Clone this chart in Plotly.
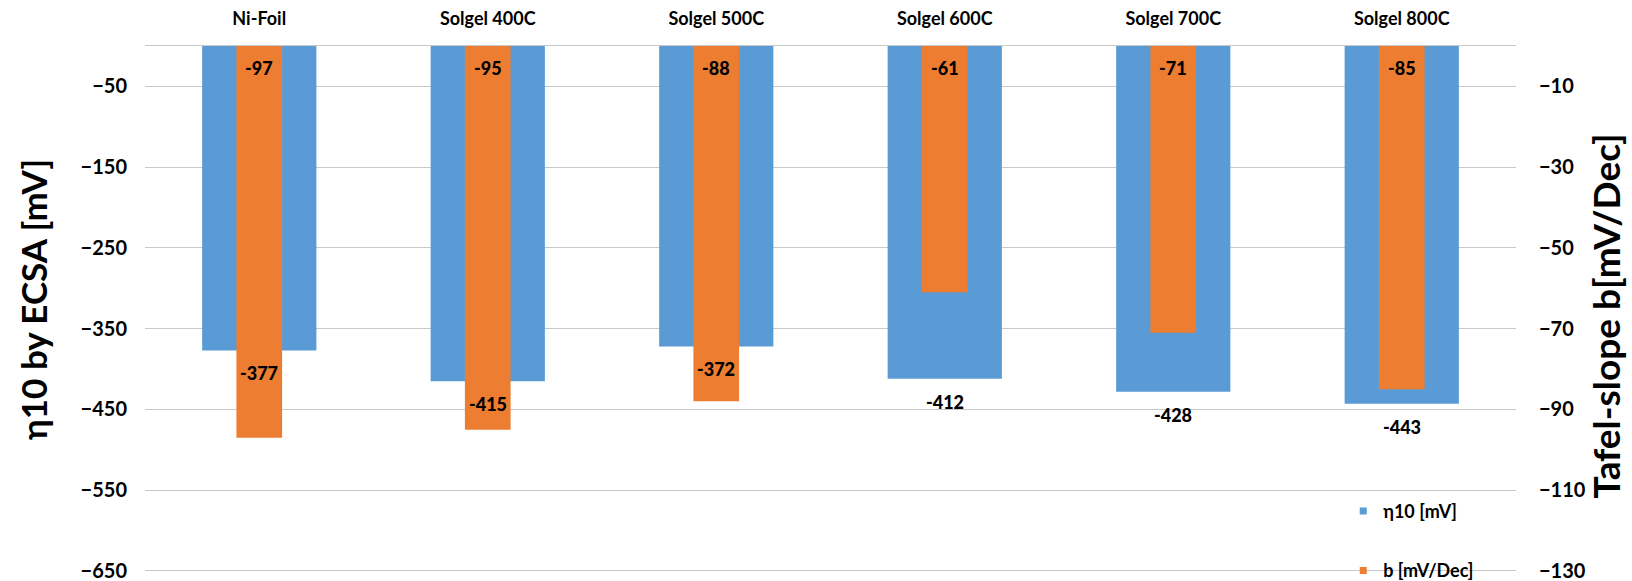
import plotly.graph_objects as go

# Catalyst samples and their measured values
categories = ["Ni-Foil", "Solgel 400C", "Solgel 500C", "Solgel 600C", "Solgel 700C", "Solgel 800C"]
eta10 = [-377, -415, -372, -412, -428, -443]          # η10 by ECSA [mV]
tafel_b = [-97, -95, -88, -61, -71, -85]              # Tafel slope b [mV/Dec]

left_ticks = [-50, -150, -250, -350, -450, -550, -650]
right_ticks = [-10, -30, -50, -70, -90, -110, -130]

BLUE = "#5B9BD5"
ORANGE = "#ED7D31"
GRID = "#C8C8C8"
FONT = "Lato"

# A little headroom below the last gridline so it is drawn inside the plot area
LEFT_RANGE = [-652.5, 0]
RIGHT_RANGE = [-130.5, 0]

fig = go.Figure()

fig.add_trace(go.Bar(
    x=categories, y=eta10, name="η10 [mV]", yaxis="y",
    marker=dict(color=BLUE, line=dict(width=0)), width=0.5, showlegend=False,
))
fig.add_trace(go.Bar(
    x=categories, y=tafel_b, name="b [mV/Dec]", yaxis="y2",
    marker=dict(color=ORANGE, line=dict(width=0)), width=0.2, showlegend=False,
))

# Legend keys with small square swatches
for name, color, grp in [("η10 [mV]", BLUE, "g1"), ("b [mV/Dec]", ORANGE, "g2")]:
    fig.add_trace(go.Scatter(
        x=[None], y=[None], mode="markers", name=name, legendgroup=grp,
        marker=dict(symbol="square", size=7, color=color),
    ))

label_font = dict(family=FONT, size=18, color="black", weight=900)

# η10 value labels just below the end of each blue bar
for c, v in zip(categories, eta10):
    fig.add_annotation(x=c, y=v, xref="x", yref="y", text=str(v), showarrow=False,
                       yanchor="top", yshift=-10, font=label_font)

# Tafel slope labels at the base of each orange bar
for c, v in zip(categories, tafel_b):
    fig.add_annotation(x=c, y=0, xref="x", yref="y2", text=str(v), showarrow=False,
                       yanchor="top", yshift=-9, font=label_font)

tick_font = dict(family=FONT, size=20, color="black", weight="bold")

# Axis titles, rotated
fig.add_annotation(text="η10 by ECSA [mV]", xref="paper", yref="paper",
                   x=-0.0817, y=0.52, xanchor="center", yanchor="middle",
                   textangle=-90, showarrow=False,
                   font=dict(family=FONT, size=35, color="black", weight="bold"))
fig.add_annotation(text="Tafel-slope b[mV/Dec]", xref="paper", yref="paper",
                   x=1.0650, y=0.487, xanchor="center", yanchor="middle",
                   textangle=-90, showarrow=False,
                   font=dict(family=FONT, size=37, color="black", weight="bold"))

fig.update_layout(
    width=1632, height=581,
    margin=dict(l=145, r=116, t=46, b=8, autoexpand=False),
    paper_bgcolor="white", plot_bgcolor="white",
    barmode="overlay",
    font=dict(family=FONT),
    xaxis=dict(
        side="top", showgrid=False, showline=True, linecolor=GRID, linewidth=1,
        ticks="outside", ticklen=13, tickcolor="rgba(0,0,0,0)",
        tickfont=dict(family=FONT, size=18, color="black", weight="bold"),
        fixedrange=True,
    ),
    yaxis=dict(
        range=LEFT_RANGE, tickvals=left_ticks, showgrid=True, gridcolor=GRID, gridwidth=1,
        zeroline=False, ticks="outside", ticklen=13, tickcolor="rgba(0,0,0,0)",
        tickfont=tick_font, ticklabeloverflow="allow",
    ),
    yaxis2=dict(
        range=RIGHT_RANGE, tickvals=right_ticks, overlaying="y", side="right",
        showgrid=False, zeroline=False, ticks="outside", ticklen=18,
        tickcolor="rgba(0,0,0,0)", tickfont=tick_font, ticklabeloverflow="allow",
    ),
    legend=dict(
        x=0.874, xanchor="left", y=-0.03, yanchor="bottom",
        tracegroupgap=33, itemwidth=30,
        font=dict(family=FONT, size=18, color="black", weight="bold"),
        bgcolor="rgba(0,0,0,0)",
    ),
)

fig.write_html("out.html")
